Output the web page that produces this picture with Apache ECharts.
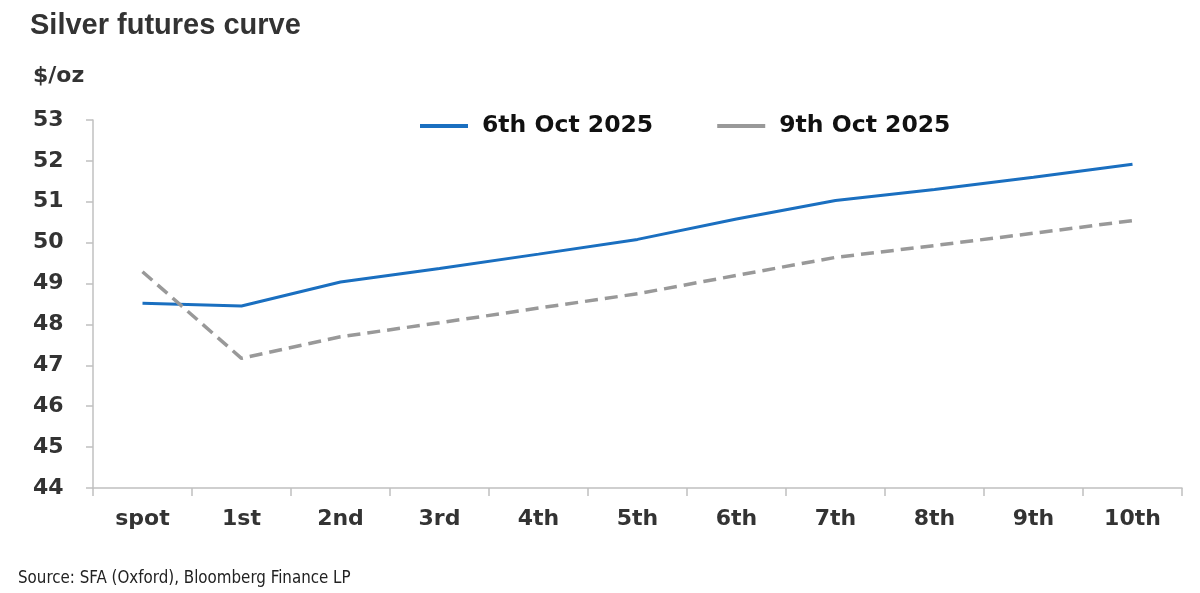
<!DOCTYPE html>
<html><head><meta charset="utf-8">
<script src="https://cdn.jsdelivr.net/npm/echarts@6/dist/echarts.min.js"></script>
<style>html,body{margin:0;padding:0;background:#fff}#c{width:1200px;height:593px}</style>
</head><body><div id="c"></div>
<script>
const categories = ['spot','1st','2nd','3rd','4th','5th','6th','7th','8th','9th','10th'];
const oct6 = [48.52, 48.45, 49.04, 49.37, 49.72, 50.08, 50.58, 51.03, 51.30, 51.60, 51.92];
const oct9 = [49.29, 47.17, 47.70, 48.04, 48.40, 48.75, 49.20, 49.64, 49.93, 50.23, 50.54];
const seriesNames = ['6th Oct 2025', '9th Oct 2025'];
const yTicks = {min: 44, max: 53, interval: 1};

const chart = echarts.init(document.getElementById('c'));
const wideBold = '"DejaVu Sans", Verdana, sans-serif';
chart.setOption({
  animation: false,
  backgroundColor: '#fff',
  title: [
    {text: 'Silver futures curve', left: 25, top: 6,
     textStyle: {fontFamily: '"Liberation Sans", Arial, sans-serif', fontWeight: 'bold', fontSize: 29, color: '#333'}},
    {text: '$/oz', left: 28, top: 60,
     textStyle: {fontFamily: wideBold, fontWeight: 'bold', fontSize: 22, color: '#333'}},
    {text: 'Source: SFA (Oxford), Bloomberg Finance LP', left: 13, top: 565,
     textStyle: {fontFamily: '"DejaVu Sans Condensed", "Liberation Sans", sans-serif', fontWeight: 'normal', fontSize: 16.8, color: '#222'}}
  ],
  legend: {
    top: 109, left: 415, itemGap: 64, itemWidth: 48, itemHeight: 4,
    icon: 'rect',
    textStyle: {fontFamily: wideBold, fontWeight: 'bold', fontSize: 23.5, color: '#111', padding: [0,0,0,9]},
    data: [
      {name: seriesNames[0], itemStyle: {color: '#1a6fc0'}},
      {name: seriesNames[1], itemStyle: {color: '#999'}}
    ]
  },
  grid: {left: 93, right: 18, top: 120, bottom: 105, containLabel: false},
  xAxis: {
    type: 'category', data: categories, boundaryGap: true,
    axisLine: {lineStyle: {color: '#c0c0c0', width: 1.5}},
    axisTick: {show: true, length: 8, lineStyle: {color: '#c0c0c0', width: 1.5}},
    axisLabel: {fontFamily: wideBold, fontWeight: 'bold', fontSize: 22, color: '#333', margin: 20}
  },
  yAxis: {
    type: 'value', min: yTicks.min, max: yTicks.max, interval: yTicks.interval,
    axisLine: {show: true, lineStyle: {color: '#c0c0c0', width: 1.5}},
    axisTick: {show: true, length: 7, lineStyle: {color: '#c0c0c0', width: 1.5}},
    splitLine: {show: false},
    axisLabel: {fontFamily: wideBold, fontWeight: 'bold', fontSize: 22, color: '#333', margin: 60, align: 'left'}
  },
  series: [
    {name: seriesNames[0], type: 'line', data: oct6, symbol: 'none',
     lineStyle: {color: '#1a6fc0', width: 3}, itemStyle: {color: '#1a6fc0'}},
    {name: seriesNames[1], type: 'line', data: oct9, symbol: 'none',
     lineStyle: {color: '#999', width: 3.5, type: [13, 7]}, itemStyle: {color: '#999'}}
  ]
});
</script></body></html>
